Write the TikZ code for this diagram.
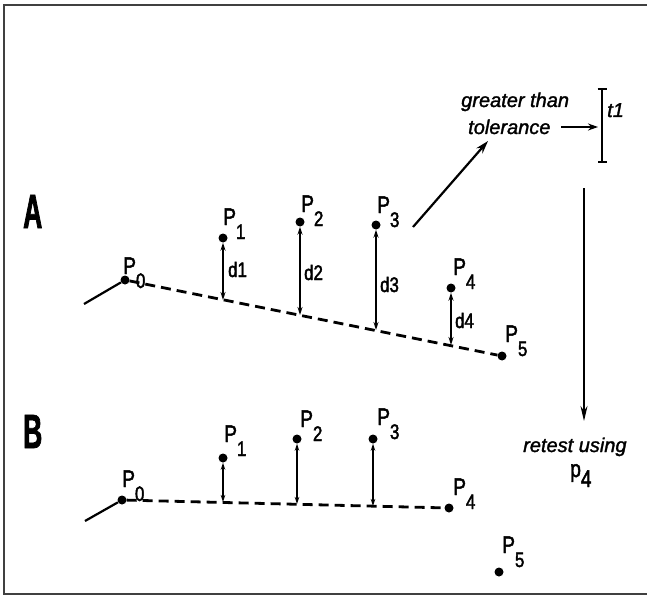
\documentclass[tikz,border=0pt]{standalone}
\usepackage{fontspec}
\setmainfont{Liberation Sans}
\newfontfamily\condfont[FakeStretch=0.8,FakeBold=2]{Liberation Sans}
\newfontfamily\notefont[FakeBold=1.5]{Liberation Sans}
\newfontfamily\narrowbold[FakeStretch=0.55,FakeBold=1.5]{Liberation Sans Bold}
\usetikzlibrary{arrows.meta,calc}
\newcommand\plabel[1]{P\raisebox{-14pt}{\fontsize{21}{21}\selectfont #1}}
\newcommand\psmall[1]{p\raisebox{-10pt}{#1}}
\begin{document}
\begin{tikzpicture}[x=1pt,y=-1pt,
  dot/.style={circle,fill=black,inner sep=0pt,minimum size=9pt},
  plab/.style={font=\condfont\fontsize{24}{24}\selectfont,inner sep=0pt,anchor=base west},
  dlab/.style={font=\condfont\fontsize{21}{21}\selectfont,inner sep=0pt,anchor=base west},
  note/.style={font=\notefont\itshape\fontsize{20}{22}\selectfont,inner sep=0pt,anchor=base west},
  big/.style={font=\narrowbold\fontsize{48}{48}\selectfont,inner sep=0pt,anchor=base west},
  dist/.style={line width=1.6pt,{Stealth[length=8pt,width=5pt]}-{Stealth[length=8pt,width=5pt]}},
  sdist/.style={line width=1.5pt,{Stealth[length=7pt,width=4.5pt]}-{Stealth[length=7pt,width=4.5pt]}},
  chord/.style={line width=2.8pt,dash pattern=on 10pt off 6pt},
  lead/.style={line width=2.2pt},
  frame/.style={line width=2pt,draw=black!75}]
\useasboundingbox (0,0) rectangle (647,596);
\fill[white] (0,0) rectangle (647,596);
\draw[frame] (647,5) -- (4,5) -- (4,594) -- (647,594);

% ---------- A ----------
\node[big] (labA) at (23,228) {A};
\node[dot] (a0) at (125,280) {};
\node[dot] (a1) at (223,238) {};
\node[dot] (a2) at (300,222) {};
\node[dot] (a3) at (376,225) {};
\node[dot] (a4) at (451,288) {};
\node[dot] (a5) at (502,356) {};
\coordinate (astart) at (84,304);
\coordinate (fa1) at (223,300);
\coordinate (fa2) at (300,315);
\coordinate (fa3) at (376,330);
\coordinate (fa4) at (451,345);
\draw[lead] (astart) -- (a0);
\draw[chord] (a0) -- (a5);
\draw[dist] (a1.south) -- (fa1);
\draw[dist] (a2.south) -- (fa2);
\draw[dist] (a3.south) -- (fa3);
\draw[dist] (a4.south) -- (fa4);
\node[plab] (pa0) at ($(a0)+(-2,-6)$) {\plabel{0}};
\node[plab] (pa1) at ($(a1)+(0,-13)$) {\plabel{1}};
\node[plab] (pa2) at ($(a2)+(1,-10)$) {\plabel{2}};
\node[plab] (pa3) at ($(a3)+(1,-12)$) {\plabel{3}};
\node[plab] (pa4) at ($(a4)+(2,-13)$) {\plabel{4}};
\node[plab] (pa5) at ($(a5)+(3,-14)$) {\plabel{5}};
\node[dlab] (d1) at (228,277) {d1};
\node[dlab] (d2) at (304,280) {d2};
\node[dlab] (d3) at (380,292) {d3};
\node[dlab] (d4) at (455,328) {d4};

% tolerance annotation
\coordinate (src) at (413,227);
\coordinate (tgt) at (488,141);
\draw[lead,-{Stealth[length=13pt,width=8pt]}] (src) -- (tgt);
\node[note] (gt) at (461,107) {greater than};
\node[note] (tol) at (468,134) {tolerance};
\coordinate (sa) at (561,127);
\coordinate (sb) at (598,127);
\draw[line width=1.8pt,-{Stealth[length=10pt,width=7pt]}] (sa) -- (sb);
\coordinate (tb1) at (602,88);
\coordinate (tb2) at (602,163);
\draw[line width=1.8pt,{Bar[width=9pt]}-{Bar[width=9pt]}] (tb1) -- (tb2);
\node[note] (t1) at (607,117) {t1};
\coordinate (va) at (584,188);
\coordinate (vb) at (584,421);
\draw[line width=1.8pt,-{Stealth[length=15pt,width=7pt]}] (va) -- (vb);
\node[note] (rt) at (523,452) {retest using};
\node[plab,font=\condfont\fontsize{24}{24}\selectfont] (p4) at (570,477) {\psmall{4}};

% ---------- B ----------
\node[big] (labB) at (23,448) {B};
\node[dot] (b0) at (122,500) {};
\node[dot] (b1) at (223,458) {};
\node[dot] (b2) at (297,439) {};
\node[dot] (b3) at (373,439) {};
\node[dot] (b4) at (449,508) {};
\node[dot] (b5) at (499,572) {};
\coordinate (bstart) at (85,521);
\coordinate (fb1) at (223,502);
\coordinate (fb2) at (297,504);
\coordinate (fb3) at (373,506);
\draw[lead] (bstart) -- (b0);
\draw[chord] (b0) -- (b4);
\draw[sdist] (b1.south) -- (fb1);
\draw[sdist] (b2.south) -- (fb2);
\draw[sdist] (b3.south) -- (fb3);
\node[plab] (pb0) at ($(b0)+(0,-13)$) {\plabel{0}};
\node[plab] (pb1) at ($(b1)+(1,-16)$) {\plabel{1}};
\node[plab] (pb2) at ($(b2)+(3,-12)$) {\plabel{2}};
\node[plab] (pb3) at ($(b3)+(4,-14)$) {\plabel{3}};
\node[plab] (pb4) at ($(b4)+(4,-13)$) {\plabel{4}};
\node[plab] (pb5) at ($(b5)+(3,-19)$) {\plabel{5}};
\end{tikzpicture}
\end{document}
